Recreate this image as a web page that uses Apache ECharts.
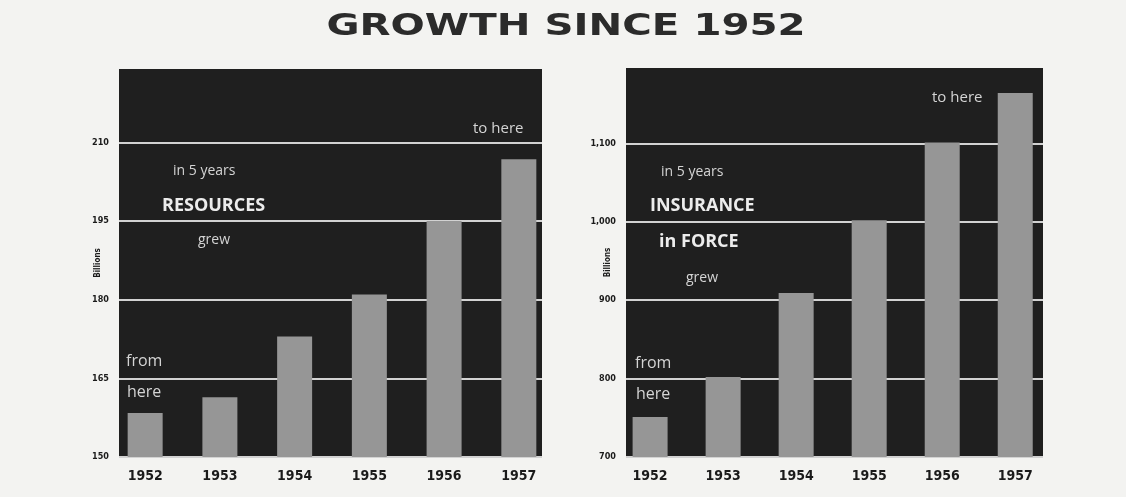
<!DOCTYPE html>
<html>
<head>
<meta charset="utf-8">
<script src="https://cdn.jsdelivr.net/npm/echarts@6/dist/echarts.min.js"></script>
<style>
  html, body { margin: 0; padding: 0; background: #f3f3f1; }
  #main { width: 1126px; height: 497px; }
</style>
</head>
<body>
<div id="main"></div>
<script>
// 数据
const years = [1952, 1953, 1954, 1955, 1956, 1957]
const resources = [158.4, 161.4, 173, 181, 195, 206.8]
const insurance = [751, 802, 909, 1002, 1101, 1164]
const resTicks = [150, 165, 180, 195, 210]
const insTicks = [700, 800, 900, 1000, 1100]

let ele = echarts.init(document.getElementById('main'))

const dark = '#1f1f1f'
const barColor = '#969696'
const gridLine = '#d2d2d2'
const labelFont = 'DejaVu Sans Condensed'
const noteFont = 'Open Sans'

function pairs(vals) {
    return years.map((y, i) => [y, vals[i]])
}

function xAxisOf(idx, min, max) {
    return {
        type: 'value',
        gridIndex: idx,
        min: min,
        max: max,
        axisLine: { show: false },
        axisTick: { show: false, customValues: years },
        splitLine: { show: false },
        axisLabel: {
            customValues: years,
            margin: 12,
            color: '#1a1a1a',
            fontFamily: labelFont,
            fontWeight: 'bold',
            fontSize: 14,
            formatter: v => String(v)
        }
    }
}

function yAxisOf(idx, min, max, ticks, nameGap, fmt) {
    return {
        type: 'value',
        gridIndex: idx,
        min: min,
        max: max,
        name: 'Billions',
        nameLocation: 'middle',
        nameRotate: 90,
        nameGap: nameGap,
        nameMoveOverlap: false,
        nameTextStyle: { color: '#1a1a1a', fontFamily: labelFont, fontWeight: 'bold', fontSize: 8 },
        axisLine: { show: false },
        axisTick: { show: false, customValues: ticks },
        splitLine: { show: true, lineStyle: { color: gridLine, width: 2 } },
        axisLabel: {
            customValues: ticks,
            margin: 10,
            color: '#1a1a1a',
            fontFamily: labelFont,
            fontWeight: 'bold',
            fontSize: 9,
            formatter: fmt
        }
    }
}

// 注释文字
function note(text, x, y, size, bold, color) {
    return {
        type: 'text',
        x: x,
        y: y,
        z: 100,
        style: {
            text: text,
            fill: color || '#d4d4d4',
            font: (bold ? 'bold ' : '') + size + 'px "' + noteFont + '"',
            textVerticalAlign: 'middle'
        }
    }
}

const option = {
    backgroundColor: '#f3f3f1',
    animation: false,
    grid: [
        { left: 119, right: 584, top: 69, bottom: 40, show: true, backgroundColor: dark, borderWidth: 0 },
        { left: 626, right: 83, top: 68, bottom: 40, show: true, backgroundColor: dark, borderWidth: 0 }
    ],
    xAxis: [
        xAxisOf(0, 1951.65, 1957.31),
        xAxisOf(1, 1951.67, 1957.38)
    ],
    yAxis: [
        yAxisOf(0, 150, 224, resTicks, 17, v => String(v)),
        yAxisOf(1, 700, 1196, insTicks, 14, v => v >= 1000 ? Math.floor(v / 1000) + ',' + String(v % 1000).padStart(3, '0') : String(v))
    ],
    series: [
        {
            type: 'bar',
            xAxisIndex: 0,
            yAxisIndex: 0,
            barWidth: 35,
            itemStyle: { color: barColor },
            data: pairs(resources)
        },
        {
            type: 'bar',
            xAxisIndex: 1,
            yAxisIndex: 1,
            barWidth: 35,
            itemStyle: { color: barColor },
            data: pairs(insurance)
        }
    ],
    graphic: [
        // 标题
        {
            type: 'text',
            x: 566,
            y: 27,
            scaleX: 1.3,
            z: 100,
            style: {
                text: 'GROWTH SINCE 1952',
                fill: '#2b2b2b',
                font: 'bold 31px "DejaVu Sans"',
                textAlign: 'center',
                textVerticalAlign: 'middle'
            }
        },
        note('to here', 473, 129, 15, false),
        note('in 5 years', 173, 171, 14, false),
        note('RESOURCES', 162, 206, 18, true, '#ececec'),
        note('grew', 198, 240, 14, false),
        note('from', 126, 361, 16, false),
        note('here', 127, 392, 16, false),

        note('to here', 932, 98, 15, false),
        note('in 5 years', 661, 172, 14, false),
        note('INSURANCE', 650, 206, 18, true, '#ececec'),
        note('in FORCE', 659, 242, 18, true, '#ececec'),
        note('grew', 686, 278, 14, false),
        note('from', 635, 363, 16, false),
        note('here', 636, 394, 16, false)
    ]
}

ele.setOption(option)
</script>
</body>
</html>
